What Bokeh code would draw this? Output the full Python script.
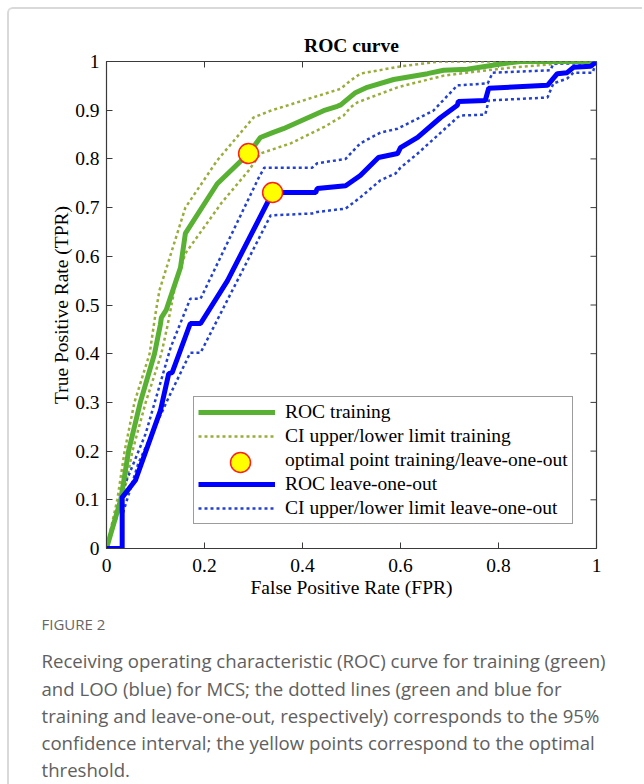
from bokeh.plotting import figure
from bokeh.models import Legend, LegendItem, FixedTicker, Title
from bokeh.layouts import column
from bokeh.embed import file_html
from bokeh.resources import INLINE

# ---------------- data ----------------
train_fpr = [0, 0.029, 0.045, 0.069, 0.082, 0.098, 0.110, 0.112, 0.122, 0.151, 0.161, 0.226,
             0.290, 0.314, 0.339, 0.361, 0.443, 0.471, 0.478, 0.508, 0.532, 0.586, 0.655,
             0.688, 0.736, 0.798, 0.845, 1.0]
train_tpr = [0, 0.100, 0.200, 0.300, 0.345, 0.400, 0.460, 0.474, 0.490, 0.577, 0.647, 0.749,
             0.811, 0.844, 0.854, 0.862, 0.899, 0.908, 0.911, 0.936, 0.947, 0.963, 0.975,
             0.982, 0.984, 0.994, 1.0, 1.0]

train_up_fpr = [0, 0.022, 0.037, 0.057, 0.088, 0.100, 0.108, 0.161, 0.226, 0.300, 0.335,
                0.478, 0.498, 0.518, 0.600, 0.680, 1.0]
train_up_tpr = [0, 0.100, 0.200, 0.300, 0.400, 0.482, 0.530, 0.700, 0.797, 0.885, 0.899,
                0.944, 0.961, 0.975, 0.990, 1.0, 1.0]

train_lo_fpr = [0, 0.033, 0.053, 0.080, 0.112, 0.125, 0.141, 0.161, 0.235, 0.290, 0.314,
                0.376, 0.443, 0.484, 0.498, 0.512, 0.594, 0.688, 0.777, 0.831, 0.927, 1.0]
train_lo_tpr = [0, 0.100, 0.200, 0.300, 0.400, 0.460, 0.544, 0.606, 0.710, 0.776, 0.811,
                0.832, 0.865, 0.889, 0.906, 0.916, 0.947, 0.971, 0.982, 0.988, 0.996, 1.0]

loo_fpr = [0, 0.032, 0.032, 0.043, 0.059, 0.110, 0.127, 0.134, 0.171, 0.192, 0.247, 0.339,
           0.427, 0.430, 0.488, 0.518, 0.555, 0.594, 0.600, 0.635, 0.682, 0.716, 0.718,
           0.773, 0.780, 0.900, 0.920, 0.940, 0.953, 0.988, 1.0]
loo_tpr = [0, 0, 0.105, 0.119, 0.140, 0.283, 0.359, 0.361, 0.462, 0.462, 0.550, 0.731,
           0.731, 0.739, 0.745, 0.766, 0.803, 0.811, 0.823, 0.844, 0.885, 0.910, 0.918,
           0.920, 0.945, 0.951, 0.975, 0.977, 0.988, 0.990, 1.0]

loo_up_fpr = [0, 0.032, 0.032, 0.039, 0.080, 0.131, 0.171, 0.192, 0.310, 0.322, 0.420,
              0.430, 0.488, 0.498, 0.518, 0.559, 0.594, 0.667, 0.716, 0.778, 0.788, 0.906,
              0.912, 0.988, 1.0]
loo_up_tpr = [0, 0, 0.120, 0.135, 0.236, 0.413, 0.513, 0.513, 0.760, 0.782, 0.782,
              0.791, 0.800, 0.811, 0.832, 0.854, 0.862, 0.899, 0.951, 0.955, 0.977, 0.982,
              0.996, 0.996, 1.0]

loo_lo_fpr = [0.032, 0.032, 0.065, 0.124, 0.171, 0.192, 0.267, 0.335, 0.420, 0.430, 0.488,
              0.518, 0.559, 0.590, 0.600, 0.635, 0.716, 0.722, 0.773, 0.780, 0.900, 0.912,
              0.940, 0.953, 0.992, 1.0]
loo_lo_tpr = [0, 0.068, 0.175, 0.304, 0.402, 0.402, 0.550, 0.684, 0.688, 0.691, 0.698,
              0.721, 0.756, 0.770, 0.782, 0.811, 0.885, 0.889, 0.891, 0.920, 0.926, 0.955,
              0.965, 0.977, 0.977, 1.0]

opt_fpr = [0.290, 0.339]
opt_tpr = [0.811, 0.731]

x_ticks = [0, 0.2, 0.4, 0.6, 0.8, 1.0]
x_tick_labels = ["0", "0.2", "0.4", "0.6", "0.8", "1"]
y_ticks = [0, 0.1, 0.2, 0.3, 0.4, 0.5, 0.6, 0.7, 0.8, 0.9, 1.0]
y_tick_labels = ["0", "0.1", "0.2", "0.3", "0.4", "0.5", "0.6", "0.7", "0.8", "0.9", "1"]

legend_labels = ["ROC training", "CI upper/lower limit training",
                 "optimal point training/leave-one-out", "ROC leave-one-out",
                 "CI upper/lower limit leave-one-out"]

caption_head = "FIGURE 2"
caption_lines = [
    "Receiving operating characteristic (ROC) curve for training (green)",
    "and LOO (blue) for MCS; the dotted lines (green and blue for",
    "training and leave-one-out, respectively) corresponds to the 95%",
    "confidence interval; the yellow points correspond to the optimal",
    "threshold.",
]

# ---------------- layout (page pixels) ----------------
OX, OY = 9, 9                         # canvas origin on the page (margin 7 + border 2)
FL, FR, FT, FB = 106, 596, 61, 548    # frame edges on the page
W = 633
H = 775
CAP_X = 41                            # caption left edge on the page


def dx(px):
    return (px - FL) / (FR - FL)


def dy(py):
    return (FB - py) / (FB - FT)


SERIF = "Liberation Serif"
FS = "19.5px"

p = figure(width=W, height=H, x_range=(0, 1), y_range=(0, 1),
           output_backend="svg", toolbar_location=None,
           min_border_left=FL - OX, min_border_right=W - (FR - OX),
           min_border_top=FT - OY, min_border_bottom=H - (FB - OY),
           title="ROC curve")

p.title.text_font = SERIF
p.title.text_font_size = FS
p.title.text_font_style = "bold"
p.title.align = "center"
p.title.text_color = "#000000"
p.title.standoff = 12

p.grid.visible = False
p.outline_line_color = "#3a3a3a"
p.outline_line_width = 1.2
p.background_fill_color = "white"
p.border_fill_color = "white"

for ax in (p.xaxis[0], p.yaxis[0]):
    ax.major_tick_in = 6
    ax.major_tick_out = 0
    ax.minor_tick_line_color = None
    ax.axis_line_color = "#3a3a3a"
    ax.major_tick_line_color = "#3a3a3a"
    ax.major_label_text_font = SERIF
    ax.major_label_text_font_size = FS
    ax.major_label_text_color = "#000000"
    ax.axis_label_text_font = SERIF
    ax.axis_label_text_font_size = FS
    ax.axis_label_text_font_style = "normal"
    ax.axis_label_text_color = "#000000"

p.xaxis.ticker = FixedTicker(ticks=x_ticks)
p.yaxis.ticker = FixedTicker(ticks=y_ticks)
p.xaxis.major_label_overrides = {t: l for t, l in zip(x_ticks, x_tick_labels)}
p.yaxis.major_label_overrides = {t: l for t, l in zip(y_ticks, y_tick_labels)}
p.xaxis.axis_label = "False Positive Rate (FPR)"
p.yaxis.axis_label = "True Positive Rate (TPR)"
p.xaxis.major_label_standoff = 10
p.yaxis.major_label_standoff = 7
p.xaxis.axis_label_standoff = 2
p.yaxis.axis_label_standoff = 0

# inward tick marks on the top and right frame edges
tick_dx = 6 / (FR - FL)
tick_dy = 6 / (FB - FT)
p.segment(x0=x_ticks, y0=[1.0] * len(x_ticks), x1=x_ticks, y1=[1.0 - tick_dy] * len(x_ticks),
          line_color="#3a3a3a", line_width=1)
p.segment(x0=[1.0] * len(y_ticks), y0=y_ticks, x1=[1.0 - tick_dx] * len(y_ticks), y1=y_ticks,
          line_color="#3a3a3a", line_width=1)

GREEN = "#58b132"
GREEN_DOT = "#98ad3a"
BLUE = "#0000ff"
BLUE_DOT = "#2341d0"
YELLOW = "#ffff00"
RED = "#ff2020"

r_tu = p.line(train_up_fpr, train_up_tpr, line_color=GREEN_DOT, line_width=2.5, line_dash="3 3")
r_tl = p.line(train_lo_fpr, train_lo_tpr, line_color=GREEN_DOT, line_width=2.5, line_dash="3 3")
r_lu = p.line(loo_up_fpr, loo_up_tpr, line_color=BLUE_DOT, line_width=2.5, line_dash="3 3")
r_ll = p.line(loo_lo_fpr, loo_lo_tpr, line_color=BLUE_DOT, line_width=2.5, line_dash="3 3")
r_t = p.line(train_fpr, train_tpr, line_color=GREEN, line_width=5)
r_l = p.line(loo_fpr, loo_tpr, line_color=BLUE, line_width=5)
r_o = p.scatter(opt_fpr, opt_tpr, marker="circle", size=20, fill_color=YELLOW,
                line_color=RED, line_width=1.5)

# invisible stand-in so the legend's own (tiny) marker sample is not drawn;
# the full-size sample is drawn below at the legend row position
r_o_key = p.scatter(opt_fpr[:1], opt_tpr[:1], marker="circle", size=1,
                    fill_alpha=0, line_alpha=0)
p.scatter([dx(240)], [dy(462)], marker="circle", size=20, fill_color=YELLOW,
          line_color=RED, line_width=1.5)

legend = Legend(items=[
    LegendItem(label=legend_labels[0], renderers=[r_t]),
    LegendItem(label=legend_labels[1], renderers=[r_tu]),
    LegendItem(label=legend_labels[2], renderers=[r_o_key]),
    LegendItem(label=legend_labels[3], renderers=[r_l]),
    LegendItem(label=legend_labels[4], renderers=[r_lu]),
], location=(87, 24))
legend.label_text_font = SERIF
legend.label_text_font_size = FS
legend.label_text_color = "#000000"
legend.glyph_width = 77
legend.glyph_height = 20
legend.label_height = 20
legend.label_standoff = 10
legend.spacing = 2
legend.padding = 4
legend.margin = 0
legend.border_line_color = "#3a3a3a"
legend.border_line_width = 1
legend.background_fill_alpha = 0
p.add_layout(legend, "center")

# ---------------- caption (stacked below the x axis) ----------------
head = Title(text=caption_head, align="left", offset=CAP_X - FL, standoff=23,
             text_font="Open Sans", text_font_size="15px", text_font_style="normal",
             text_color="#666666")
p.add_layout(head, "below")
for i, line in enumerate(caption_lines):
    t = Title(text=line, align="left", offset=CAP_X - FL, standoff=1 if i == 0 else 0,
              text_font="Open Sans", text_font_size="18.6px", text_font_style="normal",
              text_color="#606060")
    p.add_layout(t, "below")

layout = column(p, margin=(7, 0, 0, 7),
                styles={"border-left": "2px solid #d9d9d9", "border-top": "2px solid #d9d9d9",
                        "border-top-left-radius": "6px"})

open("out.html", "w").write(file_html(layout, INLINE))
